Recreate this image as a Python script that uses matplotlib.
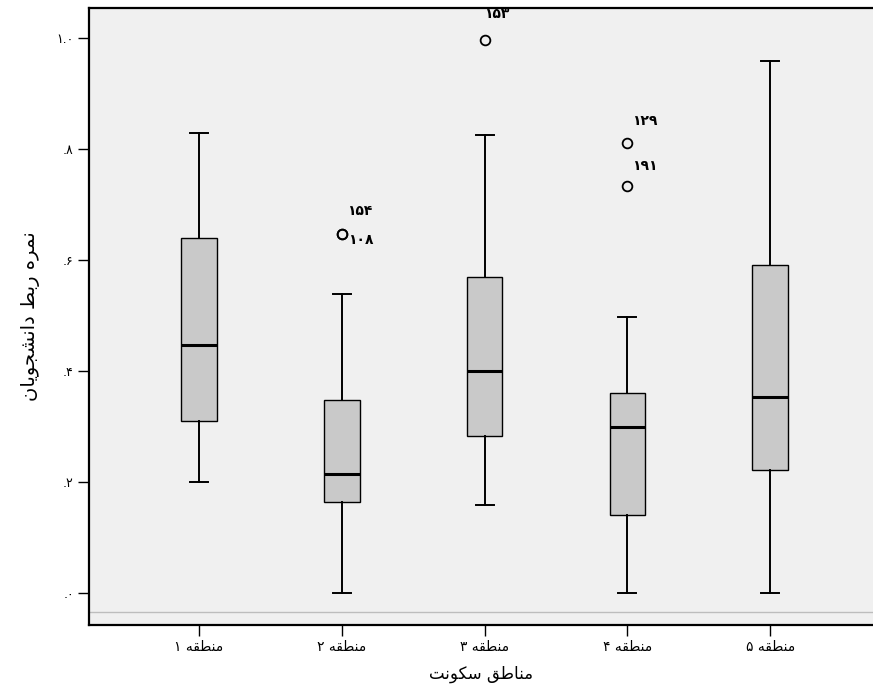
import matplotlib
matplotlib.use("Agg")
import matplotlib.pyplot as plt

# box summary values
regions = [1, 2, 3, 4, 5]
whislo = [0.200, 0.000, 0.159, 0.000, 0.000]
q1 = [0.310, 0.164, 0.283, 0.141, 0.222]
med = [0.447, 0.214, 0.400, 0.299, 0.353]
q3 = [0.640, 0.348, 0.569, 0.360, 0.591]
whishi = [0.829, 0.539, 0.825, 0.497, 0.959]
fliers = [[], [0.647, 0.647], [0.996], [0.811, 0.733], []]

# outlier case numbers (Persian digits) and label offsets in points
flier_labels = [
    (2, 0.647, "۱۵۴", (12.5, 16.5)),
    (2, 0.647, "۱۰۸", (13.5, -4.3)),
    (3, 0.996, "۱۵۳", (8.6, 18.7)),
    (4, 0.811, "۱۲۹", (12.2, 15.8)),
    (4, 0.733, "۱۹۱", (12.2, 14.4)),
]

yticks = [0.0, 0.2, 0.4, 0.6, 0.8, 1.0]
ytick_labels = [".۰", ".۲", ".۴", ".۶", ".۸", "۱.۰"]

# Persian text given in visual (left-to-right) order with presentation forms
mantaqe = "\uFEEA\uFED8\uFEC4\uFEE8\uFEE3"
digits = ["۱", "۲", "۳", "۴", "۵"]
xtick_labels = [d + " " + mantaqe for d in digits]
xlabel = ("\uFE96\uFEE7\uFEEE\uFB91\uFEB3" + " "
          + "\uFED6\uFEC3\uFE8E\uFEE8\uFEE3")
ylabel = ("\uFEE5\uFE8E\uFBFE\uFEEE\uFEA0\uFEB8\uFEE7\uFE8D\uFEA9" + " "
          + "\uFEC2\uFE91\uFEAD" + " "
          + "\uFEE9\uFEAE\uFEE4\uFEE7")

stats = []
for i in range(len(regions)):
    stats.append({
        "whislo": whislo[i], "q1": q1[i], "med": med[i],
        "q3": q3[i], "whishi": whishi[i], "fliers": fliers[i],
    })

plt.rcParams["font.family"] = ["DejaVu Sans"]

fig = plt.figure(figsize=(8.73, 6.97), dpi=100)
ax = fig.add_axes([0.102, 0.1033, 0.898, 0.8852])
ax.set_facecolor("#f0f0f0")

ax.bxp(
    stats, positions=regions, widths=0.25, patch_artist=True,
    boxprops=dict(facecolor="#c9c9c9", edgecolor="black", linewidth=1.0),
    medianprops=dict(color="black", linewidth=2.2),
    whiskerprops=dict(color="black", linewidth=1.4),
    capprops=dict(color="black", linewidth=1.4),
    flierprops=dict(marker="o", markerfacecolor="none",
                    markeredgecolor="black", markersize=7,
                    markeredgewidth=1.3),
)

for pos, val, txt, off in flier_labels:
    ax.annotate(txt, xy=(pos, val), xytext=off, textcoords="offset points",
                ha="center", va="center", fontsize=10, fontweight="bold",
                annotation_clip=False)

ax.axhline(-0.034, color="#bdbdbd", linewidth=1.0, zorder=0)

ax.set_xlim(0.23, 5.72)
ax.set_ylim(-0.0577, 1.054)
ax.set_yticks(yticks)
ax.set_yticklabels(ytick_labels, fontsize=9)
ax.set_xticks(regions)
ax.set_xticklabels(xtick_labels, fontsize=10)
ax.tick_params(axis="both", direction="out", length=8, width=1.0,
               color="black", pad=3)

ax.set_xlabel(xlabel, fontsize=12, labelpad=8)
ax.set_ylabel(ylabel, fontsize=14, labelpad=12)

for side in ["left", "top", "bottom"]:
    ax.spines[side].set_linewidth(1.6)
ax.spines["right"].set_visible(False)

fig.savefig("out.png", dpi=100, facecolor="white")
